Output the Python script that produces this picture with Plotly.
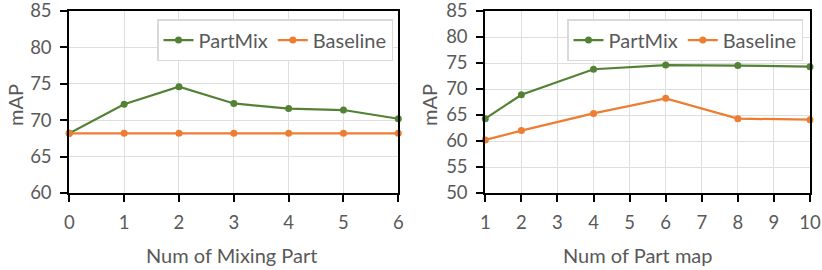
import plotly.graph_objects as go

# Left chart data
mix_parts = [0, 1, 2, 3, 4, 5, 6]
left_partmix = [68.2, 72.2, 74.6, 72.3, 71.6, 71.4, 70.2]
left_baseline = [68.2, 68.2, 68.2, 68.2, 68.2, 68.2, 68.2]

# Right chart data
part_maps = [1, 2, 4, 6, 8, 10]
right_partmix = [64.3, 68.9, 73.8, 74.6, 74.5, 74.3]
right_baseline = [60.2, 62.0, 65.3, 68.2, 64.3, 64.1]

GREEN = "#548235"
ORANGE = "#ED7D31"
TXT = "#595959"
FONT = "Lato"
TICK_SIZE = 18.5
TEXT_SIZE = 20

fig = go.Figure()

def add(x, y, name, color, xa, ya, leg):
    fig.add_trace(go.Scatter(
        x=x, y=y, name=name, mode="lines+markers",
        line=dict(color=color, width=2.25),
        marker=dict(color=color, size=7),
        xaxis=xa, yaxis=ya, legend=leg, cliponaxis=False,
    ))

add(mix_parts, left_partmix, "PartMix", GREEN, "x", "y", "legend")
add(mix_parts, left_baseline, "Baseline", ORANGE, "x", "y", "legend")
add(part_maps, right_partmix, "PartMix", GREEN, "x2", "y2", "legend2")
add(part_maps, right_baseline, "Baseline", ORANGE, "x2", "y2", "legend2")

W, H = 822, 270

def axis_common():
    return dict(
        showline=True, linecolor="black", linewidth=2, mirror=True,
        ticks="outside", ticklen=7, tickwidth=2, tickcolor="black",
        showgrid=True, gridcolor="#dedede", gridwidth=1,
        zeroline=False, tickfont=dict(family=FONT, size=TICK_SIZE, color=TXT),
        ticklabelstandoff=5, ticklabeloverflow="allow",
        fixedrange=True, automargin=False,
    )

ydom = [1 - 193 / H, 1 - 11 / H]

def legend_cfg(right_px):
    return dict(
        orientation="h", x=right_px / W, y=1 - 19 / H, xanchor="right", yanchor="top",
        bgcolor="white", bordercolor="#d9d9d9", borderwidth=1.5,
        font=dict(family=FONT, size=TEXT_SIZE, color=TXT), itemwidth=30,
    )

def ann(text, xpx, ypx, angle=0):
    return dict(text=text, x=xpx / W, y=1 - ypx / H, xref="paper", yref="paper",
                xanchor="center", yanchor="middle", textangle=angle, showarrow=False,
                font=dict(family=FONT, size=TEXT_SIZE, color=TXT))

fig.update_layout(
    width=W, height=H,
    margin=dict(l=0, r=0, t=0, b=0, autoexpand=False),
    paper_bgcolor="white", plot_bgcolor="white",
    font=dict(family=FONT, size=TEXT_SIZE, color=TXT),
    xaxis=dict(domain=[69.3 / W, 398.3 / W], range=[0, 6], dtick=1, anchor="y", **axis_common()),
    yaxis=dict(domain=ydom, range=[60, 85], dtick=5, anchor="x", **axis_common()),
    xaxis2=dict(domain=[485.3 / W, 810 / W], range=[1, 10], dtick=1, anchor="y2", **axis_common()),
    yaxis2=dict(domain=ydom, range=[50, 85], dtick=5, anchor="x2", **axis_common()),
    legend=legend_cfg(393),
    legend2=legend_cfg(803),
    annotations=[
        ann("mAP", 15, 105, -90),
        ann("mAP", 429, 105, -90),
        ann("Num of Mixing Part", 231, 255),
        ann("Num of Part map", 638, 255),
    ],
)

fig.write_html(
    "out.html",
    config={"displayModeBar": False},
    post_script="document.body.style.margin='0px';",
)
